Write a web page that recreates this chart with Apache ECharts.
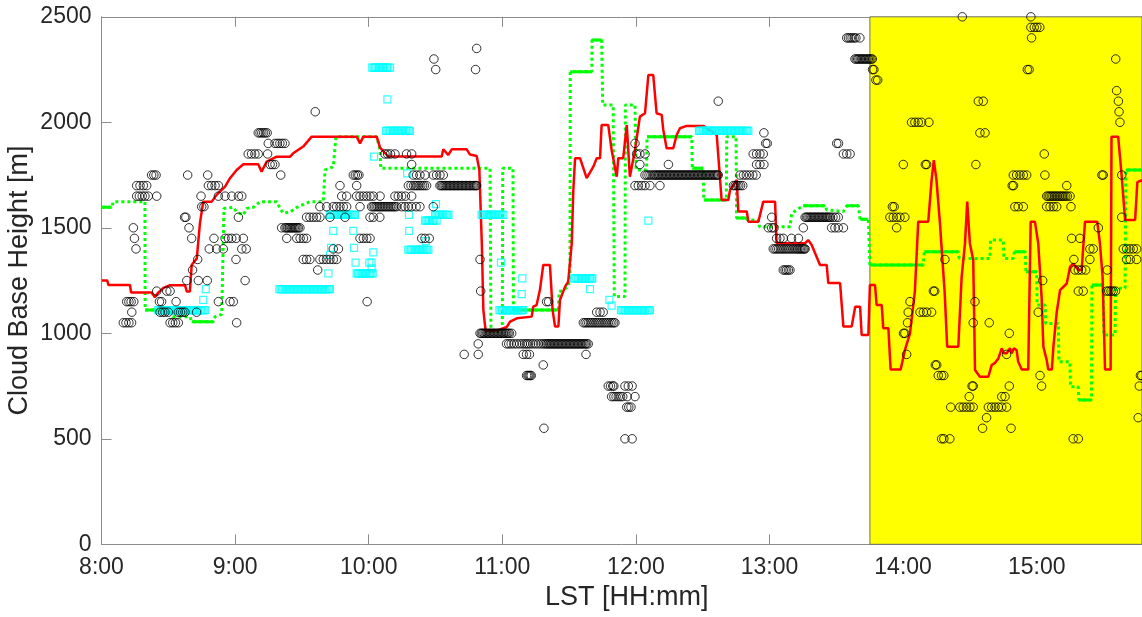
<!DOCTYPE html>
<html>
<head>
<meta charset="utf-8">
<script src="https://cdn.jsdelivr.net/npm/echarts@6/dist/echarts.min.js"></script>
<style>
html,body{margin:0;padding:0;background:#fff;}
#chart{width:1142px;height:617px;}
</style>
</head>
<body>
<div id="chart"></div>
<script>
// Time axis in minutes after midnight (LST)
const xMin = 480, xMax = 947.3, xTickStep = 60;
const yMin = 0, yMax = 2500, yTickStep = 500;
const yellowStart = 825.1;

// Red line: [minute, cloud base height m]
const redLine = [
 [480.1,1250],[482.6,1250],[483.1,1229],[492.8,1229],[493.3,1193],[502.5,1193],[504.0,1171],[505.5,1193],
 [507.8,1215],[510.8,1228],[517.5,1228],[518.3,1198],[519.7,1198],[520.5,1324],[522.8,1355],[524.2,1521],
 [525.7,1624],[529.5,1624],[531.7,1656],[535.5,1695],[537.7,1735],[540.7,1774],[543.7,1801],[550.4,1801],
 [551.9,1766],[554.2,1814],[558.7,1837],[564.7,1837],[566.1,1853],[570.6,1885],[574.4,1932],[594.6,1932],
 [596.1,1900],[597.6,1932],[603.6,1932],[605.1,1880],[608.8,1838],[632.8,1838],[633.5,1872],[635.7,1845],
 [637.3,1872],[644.0,1872],[645.5,1847],[648.5,1840],[649.7,1774],[650.8,1427],[651.5,1110],[652.5,1013],
 [657.5,1013],[662.0,1030],[663.5,1055],[666.5,1071],[673.2,1079],[673.9,1126],[675.4,1134],[676.9,1205],
 [678.4,1324],[681.4,1324],[682.6,1110],[683.7,1032],[685.2,1032],[685.9,1158],[688.2,1221],[689.6,1245],
 [691.2,1427],[691.9,1679],[692.7,1830],[694.9,1830],[697.9,1735],[700.9,1790],[702.4,1830],[703.9,1830],
 [704.6,1987],[707.6,1987],[709.1,1869],[711.4,1742],[712.1,1830],[714.3,1830],[715.9,1987],[717.3,1742],
 [719.6,1869],[721.8,2027],[724.1,2043],[725.6,2224],[727.8,2224],[729.3,2043],[731.6,2035],[732.3,1964],
 [733.8,1877],[736.8,1877],[738.3,1940],[739.8,1972],[742.8,1983],[750.3,1983],[756.3,1940],[758.5,1632],
 [761.5,1632],[762.3,1679],[765.3,1727],[766.0,1577],[769.8,1577],[770.5,1529],[775.0,1529],[777.2,1624],
 [782.5,1624],[783.2,1427],[796.0,1427],[797.4,1442],[798.9,1420],[802.7,1324],[805.7,1324],[806.4,1238],
 [811.7,1238],[813.2,1032],[816.9,1032],[818.5,1126],[820.7,1126],[821.4,992],[824.4,992],[825.1,1229],
 [827.4,1229],[828.1,1134],[830.4,1134],[831.1,1024],[833.4,1024],[834.4,828],[838.9,828],[840.8,920],
 [843.1,1000],[845.3,1200],[846.8,1529],[851.3,1529],[852.8,1726],[853.8,1821],[855.0,1726],[856.5,1529],
 [858.7,1189],[859.8,936],[864.8,936],[866.3,1268],[867.8,1426],[868.8,1624],[870.0,1426],[871.5,1347],
 [872.3,826],[874.5,794],[878.3,794],[879.8,850],[881.3,860],[882.8,881],[884.3,929],[885.3,905],
 [886.5,905],[888.0,929],[888.8,905],[889.8,929],[891.0,920],[891.7,865],[893.3,828],[896.2,828],
 [897.3,1529],[899.2,1529],[900.7,1426],[902.2,1173],[903.0,936],[904.5,873],[905.2,828],[906.8,828],
 [907.5,936],[909.0,1100],[910.5,1205],[913.5,1236],[915.0,1316],[916.4,1330],[918.7,1300],[920.2,1300],
 [921.7,1529],[927.2,1529],[928.4,1426],[929.6,1268],[930.7,828],[933.2,828],[933.6,1932],[936.6,1932],
 [938.2,1742],[939.7,1537],[944.2,1537],[945.2,1716],[947.3,1726]
];

// Green line (drawn dotted): [minute, height]
const greenLine = [
 [480.1,1597],[484.6,1597],[485.3,1624],[499.5,1624],[499.6,1111],[506.3,1111],[510.8,1100],[512.0,1079],
 [519.7,1079],[520.5,1055],[530.2,1055],[531.0,1079],[534.0,1090],[535.0,1592],[539.2,1597],[540.7,1575],
 [543.7,1561],[545.2,1592],[548.2,1597],[551.2,1624],[558.7,1624],[560.2,1592],[561.6,1569],[564.7,1575],
 [567.7,1597],[573.6,1624],[579.6,1624],[580.4,1774],[584.1,1790],[585.3,1932],[603.6,1932],[605.1,1869],
 [605.4,1782],[654.5,1782],[654.9,1010],[660.0,1010],[660.2,1782],[664.8,1782],[665.0,1111],[685.2,1111],
 [685.5,1197],[687.4,1205],[689.6,1221],[690.4,1268],[690.5,2240],[700.2,2240],[700.3,2390],[704.6,2390],
 [705.1,2082],[709.8,2082],[710.3,1174],[715.1,1174],[715.3,2082],[719.6,2082],[720.1,1774],[724.8,1774],
 [725.0,1932],[745.1,1932],[745.3,1782],[750.3,1782],[750.5,1632],[760.6,1632],[760.8,1932],[765.0,1932],
 [765.2,1547],[769.8,1547],[770.0,1537],[775.0,1537],[775.5,1505],[789.2,1505],[790.0,1569],[792.2,1585],
 [795.2,1605],[805.0,1605],[805.7,1585],[813.2,1577],[814.7,1605],[819.9,1605],[820.7,1540],[824.4,1540],
 [825.1,1324],[849.1,1324],[849.5,1387],[864.8,1387],[865.2,1355],[879.0,1355],[879.3,1442],[885.0,1442],
 [885.3,1355],[889.5,1355],[890.0,1387],[894.8,1387],[895.2,1292],[900.0,1292],[900.2,1134],[903.8,1134],
 [904.0,1047],[909.7,1047],[910.0,865],[914.9,865],[915.2,747],[918.6,747],[919.0,684],[924.6,684],
 [924.8,1229],[929.9,1229],[930.2,992],[935.2,992],[935.4,1213],[939.7,1213],[940.0,1774],[947.3,1774]
];

// Green runs that appear solid: [start, end, height]
const greenSolidRuns = [
 [480.1,484.6,1597],[499.6,506.3,1111],[520.5,530.2,1055],[665.0,685.2,1111],[690.5,700.2,2240],
 [700.3,704.6,2390],[725.0,745.1,1932],[745.3,750.3,1782],[750.5,760.6,1632],[765.2,769.8,1547],
 [795.2,805.0,1605],[814.7,819.9,1605],[820.7,824.4,1540],[825.1,849.1,1324],[849.5,864.8,1387],
 [890.0,894.8,1387],[895.2,900.0,1292],[919.0,924.6,684],[924.8,929.9,1229],[940.0,947.3,1774]
];

// Black circles: [height, [minutes...]]
const circleRows = [
 [2500,[866.6,897.4]],
 [2450,[897.4,898.9,900.1,901.4]],
 [2400,[814.7,815.5,816.3,817.1,818.0,818.8,820.6,897.7]],
 [2350,[648.5]],
 [2300,[629.3,818.4,819.0,819.6,820.2,820.8,821.4,822.0,822.6,823.2,823.8,824.4,825.0,825.6,826.2,935.5]],
 [2250,[630.1,648.0,826.3,826.9,895.8,896.6]],
 [2200,[827.8,828.6]],
 [2150,[935.9]],
 [2100,[757.0,873.8,876.0,936.7]],
 [2050,[576.0,937.0]],
 [2000,[843.8,845.3,846.8,848.3,851.6,937.4]],
 [1950,[550.4,551.2,552.0,552.8,553.6,554.4,777.5,874.5,876.8]],
 [1900,[554.9,557.9,559.0,560.1,561.2,562.4,719.6,778.3,779.0,810.2,811.0]],
 [1850,[545.9,547.4,548.9,550.4,554.6,607.3,608.5,609.8,611.8,617.0,619.3,720.3,721.8,724.1,772.7,774.2,775.7,777.2,813.2,814.7,816.2,903.4]],
 [1800,[555.7,556.8,557.9,619.3,721.8,734.6,774.2,775.7,777.5,840.1,850.0,850.6,872.7]],
 [1750,[502.5,503.5,504.5,518.7,527.7,560.5,593.1,594.0,594.9,595.6,620.0,621.5,623.0,625.3,629.0,630.5,632.0,633.5,
   724.1,725.0,725.9,726.8,727.7,728.4,729.0,729.6,730.2,730.8,731.4,732.0,732.6,733.2,733.8,734.4,735.0,735.6,736.2,
   736.8,737.4,738.0,738.6,739.2,739.8,740.4,741.0,741.6,742.2,742.8,743.4,744.0,744.6,745.2,745.8,746.4,747.0,747.6,
   748.2,748.8,749.4,750.0,750.6,751.2,751.8,752.4,753.0,753.6,754.2,754.8,755.4,756.0,756.6,757.0,
   766.8,768.3,769.6,771.0,772.5,774.0,889.5,891.0,892.5,894.0,895.5,903.7,929.3,929.9,938.2]],
 [1700,[495.8,497.3,498.8,500.3,528.0,529.5,531.0,532.5,587.1,594.6,617.8,619.0,620.2,621.0,621.8,622.6,623.4,624.2,625.0,626.0,
   632.0,632.6,633.2,633.8,634.4,635.0,635.6,636.2,636.8,637.4,638.0,638.6,639.2,639.8,640.4,641.0,641.6,642.2,642.8,
   643.4,644.0,644.6,645.2,645.8,646.4,647.0,647.6,648.2,648.5,
   719.6,721.1,722.6,724.1,726.3,730.8,763.8,764.6,765.4,766.2,767.0,768.0,889.0,889.6,913.5]],
 [1650,[495.8,497.0,498.3,499.5,501.0,504.8,524.7,532.5,535.5,538.5,541.5,543.0,587.9,590.1,594.6,596.1,597.6,599.1,600.6,
   602.1,605.1,611.8,613.3,614.8,616.5,619.3,
   904.5,905.2,905.9,906.6,907.3,908.0,908.7,909.4,910.1,910.8,911.5,912.2,913.0,913.8,915.0]],
 [1600,[525.0,526.0,578.1,581.1,584.1,585.6,587.1,588.6,590.1,596.1,
   601.3,602.0,602.7,603.4,604.1,604.8,605.5,606.2,606.9,607.6,608.3,609.0,609.7,610.4,611.1,611.8,612.6,
   614.8,616.3,617.8,619.3,621.3,623.0,629.0,835.2,836.0,890.2,891.7,894.0,904.5,906.0,907.5,909.0,915.4]],
 [1550,[517.3,517.9,541.5,572.1,573.6,575.1,576.6,578.1,582.6,589.4,600.6,602.1,605.0,781.0,
   796.0,796.6,797.2,797.8,798.4,799.0,799.6,800.2,800.8,801.4,802.0,802.6,803.2,803.8,804.4,805.0,805.6,806.2,806.8,
   807.4,808.5,809.7,810.9,834.1,835.6,837.1,838.6,840.8,938.2]],
 [1500,[494.3,519.3,560.9,562.4,563.0,563.6,564.2,564.8,565.4,566.0,566.6,567.2,567.8,568.4,569.1,
   779.5,781.0,782.0,795.2,807.9,809.4,810.9,813.2,837.1,927.7]],
 [1450,[494.8,520.5,530.5,535.5,537.0,538.5,540.5,543.7,563.2,567.7,569.2,570.7,572.1,596.1,597.6,599.1,600.6,
   623.8,625.3,627.2,783.2,784.7,786.2,789.9,793.0,915.7,919.4]],
 [1400,[495.5,528.4,531.7,534.7,543.0,545.0,584.1,586.4,
   781.7,782.5,783.3,784.1,784.9,785.7,786.5,787.3,788.1,788.9,789.7,790.5,791.3,792.1,792.7,793.3,793.9,794.5,795.1,795.6,796.0,
   923.9,925.4,938.9,940.4,941.9,943.4,944.9]],
 [1350,[523.2,540.4,570.6,572.1,573.6,578.1,579.6,581.1,582.6,584.1,585.6,650.0,858.8,916.7,923.9,940.4,942.0,944.9]],
 [1300,[520.9,577.1,786.2,787.0,787.7,788.5,789.2,917.2,918.7,920.2,922.0,931.7]],
 [1250,[518.3,523.5,527.5,544.5,902.7]],
 [1200,[504.8,509.3,510.8,650.3,853.6,854.2,918.7,920.9,931.4,932.4,933.4,934.4,935.4]],
 [1150,[491.3,492.3,493.3,494.5,506.0,507.0,513.5,532.5,537.7,539.2,599.3,679.9,680.8,843.1,872.3]],
 [1100,[493.6,506.3,507.5,508.5,510.0,514.5,515.5,516.5,517.5,522.7,702.4,703.9,705.3,842.3,847.6,849.1,850.6,852.8,900.7]],
 [1050,[489.8,491.0,492.3,493.5,510.8,512.0,513.2,514.5,540.7,
   696.4,697.2,698.0,698.8,699.6,700.4,701.2,702.0,702.8,703.6,704.4,705.2,706.0,706.8,707.6,708.4,709.2,710.0,710.6,
   842.0,871.5,878.7]],
 [1000,[650.0,650.6,651.2,651.8,652.4,653.0,653.6,654.2,654.8,655.4,656.0,656.6,657.2,657.8,658.4,659.0,659.6,660.2,
   660.8,661.4,662.0,662.6,663.2,664.2,840.2,840.8,887.7]],
 [950,[649.2,661.9,662.9,664.0,665.2,666.5,667.8,669.0,670.0,670.9,671.7,672.7,673.8,675.0,676.2,677.4,678.4,679.2,
   679.9,680.5,681.1,681.7,682.3,682.9,683.5,684.1,684.7,685.3,685.9,686.5,687.1,687.7,688.3,688.9,689.5,690.1,690.7,
   691.3,691.9,692.5,693.1,693.7,694.3,694.9,695.5,696.1,696.7,697.3,697.9,698.6]],
 [900,[642.9,649.2,669.4,670.9,672.2,697.6,841.6,886.5]],
 [850,[678.4,854.5,855.1]],
 [800,[670.9,671.5,672.0,672.5,673.0,855.8,857.3,858.3,901.5,946.6,947.2]],
 [750,[707.6,708.6,709.6,710.1,715.1,716.6,718.3,871.0,871.5,887.7,902.2,946.1]],
 [700,[709.1,710.1,711.1,712.1,713.1,714.1,716.1,719.6,869.7,884.3,885.8]],
 [650,[715.9,716.8,717.8,861.4,865.5,867.0,868.5,870.0,871.5,878.3,879.8,881.3,882.8,884.3,886.5]],
 [600,[877.5,945.6]],
 [550,[678.7,875.7,888.5]],
 [500,[715.1,718.3,857.3,858.3,861.0,916.4,918.7]]
];

// Cyan squares: [height, [minutes...]]
const squareRows = [
 [2259,[601.6,602.2,602.8,603.4,604.0,604.6,605.2,605.8,606.4,607.0,607.6,608.2,608.8,609.6]],
 [2109,[608.4]],
 [1959,[607.8,608.4,609.0,609.6,610.2,610.8,611.4,612.0,612.6,613.2,613.8,614.4,615.0,615.6,616.2,616.8,617.4,618.0,618.5,
   748.3,748.9,749.5,750.1,750.7,751.3,751.9,752.5,753.1,753.7,754.3,754.9,755.5,756.1,756.7,757.3,757.9,758.5,759.1,
   759.7,760.3,760.9,761.5,762.1,762.7,763.3,763.9,764.5,765.1,765.7,766.3,766.9,767.5,768.1,768.7,769.3,769.9,770.5]],
 [1837,[602.4]],
 [1758,[617.3]],
 [1612,[630.2]],
 [1561,[582.6,583.2,583.8,584.4,585.0,585.6,586.2,586.8,587.4,588.0,588.6,589.2,589.8,590.4,591.0,591.6,592.2,592.8,593.4,593.9,
   618.1,629.8,630.4,631.0,631.6,632.2,632.8,633.4,634.0,634.6,635.2,635.8,
   650.7,651.3,651.9,652.5,653.1,653.7,654.3,654.9,655.5,656.1,656.7,657.3,657.9,658.5,659.1,659.7,660.5]],
 [1534,[625.3,625.9,626.5,627.1,627.7,628.3,628.9,629.5,630.5,725.6]],
 [1485,[584.1,593.1,618.2]],
 [1437,[625.6]],
 [1405,[583.1,593.4]],
 [1396,[617.8,618.4,619.0,619.6,620.2,620.8,621.4,622.0,622.6,623.2,623.8,624.4,625.0,625.6,626.2,626.8]],
 [1384,[602.1]],
 [1371,[582.6]],
 [1335,[594.1,600.3,601.3,659.4]],
 [1308,[601.3]],
 [1284,[581.9,594.6,595.2,595.8,596.4,597.0,597.6,598.2,598.8,599.4,600.0,600.6,601.2,601.8]],
 [1260,[669.0,692.2,692.8,693.4,694.0,694.6,695.2,695.8,696.4,697.0,697.6,698.2,698.8,699.4,700.0,700.4]],
 [1209,[526.8,559.9,560.5,561.1,561.7,562.3,562.9,563.5,564.1,564.7,565.3,565.9,566.5,567.1,567.7,568.3,568.9,569.5,
   570.1,570.7,571.3,571.9,572.5,573.1,573.7,574.3,574.9,575.5,576.1,576.7,577.3,577.9,578.5,579.1,579.7,580.3,580.9,
   581.5,582.1,582.6,699.4]],
 [1186,[668.7]],
 [1158,[525.7,708.1]],
 [1131,[709.1]],
 [1110,[505.5,506.1,506.7,507.3,507.9,508.5,509.1,509.7,510.3,510.9,511.5,512.1,512.7,513.3,513.9,514.5,515.1,515.7,
   516.3,516.9,517.5,518.1,518.7,519.3,519.9,520.5,521.1,521.7,522.3,522.9,523.5,524.1,524.7,525.3,525.9,526.5,
   658.7,659.3,659.9,660.5,661.1,661.7,662.3,662.9,663.5,664.1,664.7,665.3,665.9,666.5,667.1,667.7,668.3,668.9,669.4,
   713.3,713.9,714.5,715.1,715.7,716.3,716.9,717.5,718.1,718.7,719.3,719.9,720.5,721.1,721.7,722.3,722.9,723.5,724.1,
   724.7,725.3,725.8,726.3]]
];

const toPairs = rows => rows.flatMap(([h, ts]) => ts.map(t => [t, h]));
const FONT = '"Liberation Sans", Arial, Helvetica, sans-serif';
const fmtTime = v => Math.floor(v / 60) + ':' + String(Math.round(v % 60)).padStart(2, '0');

const chart = echarts.init(document.getElementById('chart'), null, {renderer: 'canvas'});

const series = [
  {
    type: 'line', data: [], z: 0, silent: true,
    markArea: {
      silent: true,
      itemStyle: {color: '#FFFF00', borderColor: '#6e6e6e', borderWidth: 1},
      data: [[{xAxis: yellowStart, yAxis: yMin}, {xAxis: xMax, yAxis: yMax}]]
    }
  },
  {
    type: 'line', data: greenLine, z: 2, showSymbol: false, symbol: 'none',
    lineStyle: {color: '#00FF00', width: 3, type: [3, 3]}, animation: false
  }
];
greenSolidRuns.forEach(([s, e, v]) => series.push({
  type: 'line', data: [[s, v], [e, v]], z: 2, showSymbol: false, symbol: 'none',
  lineStyle: {color: '#00FF00', width: 3}, animation: false
}));
series.push({
  type: 'line', data: redLine, z: 3, showSymbol: false, symbol: 'none',
  lineStyle: {color: '#FF0000', width: 2.5}, animation: false
});
series.push({
  type: 'scatter', data: toPairs(squareRows), z: 4, symbol: 'rect', symbolSize: 7,
  itemStyle: {color: 'rgba(0,0,0,0)', borderColor: '#00FFFF', borderWidth: 1.2}, animation: false
});
series.push({
  type: 'scatter', data: toPairs(circleRows), z: 5, symbol: 'circle', symbolSize: 8.5,
  itemStyle: {color: 'rgba(0,0,0,0)', borderColor: '#000000', borderWidth: 1}, animation: false
});

const axisColor = '#8c8c8c';
chart.setOption({
  animation: false,
  backgroundColor: '#ffffff',
  grid: {left: 101.5, right: 0, top: 16.8, bottom: 72.7, containLabel: false, outerBoundsMode: 'none'},
  xAxis: [
    {
      type: 'value', min: xMin, max: xMax, interval: xTickStep, position: 'bottom',
      name: 'LST [HH:mm]', nameLocation: 'middle', nameGap: 40, nameMoveOverlap: false,
      nameTextStyle: {fontFamily: FONT, fontSize: 27, color: '#262626', padding: [0, 0, 0, 10]},
      axisLine: {show: true, onZero: false, lineStyle: {color: axisColor, width: 1}},
      axisTick: {show: true, inside: true, length: 10, lineStyle: {color: axisColor}},
      axisLabel: {fontFamily: FONT, fontSize: 23, color: '#262626', margin: 12, showMaxLabel: false,
        formatter: v => (Math.abs(v % 60) < 1e-6 ? fmtTime(v) : '')},
      splitLine: {show: false}
    },
    {
      type: 'value', min: xMin, max: xMax, interval: xTickStep, position: 'top',
      axisLine: {show: true, onZero: false, lineStyle: {color: axisColor, width: 1}},
      axisTick: {show: true, inside: true, length: 10, lineStyle: {color: axisColor}},
      axisLabel: {show: false}, splitLine: {show: false}
    }
  ],
  yAxis: {
    type: 'value', min: yMin, max: yMax, interval: yTickStep,
    name: 'Cloud Base Height [m]', nameLocation: 'middle', nameGap: 68, nameMoveOverlap: false,
    nameTextStyle: {fontFamily: FONT, fontSize: 27, color: '#262626'},
    axisLine: {show: true, onZero: false, lineStyle: {color: axisColor, width: 1}},
    axisTick: {show: true, inside: true, length: 10, lineStyle: {color: axisColor}},
    axisLabel: {fontFamily: FONT, fontSize: 23, color: '#262626', margin: 10, formatter: v => String(v)},
    splitLine: {show: false}
  },
  series: series
});
</script>
</body>
</html>
